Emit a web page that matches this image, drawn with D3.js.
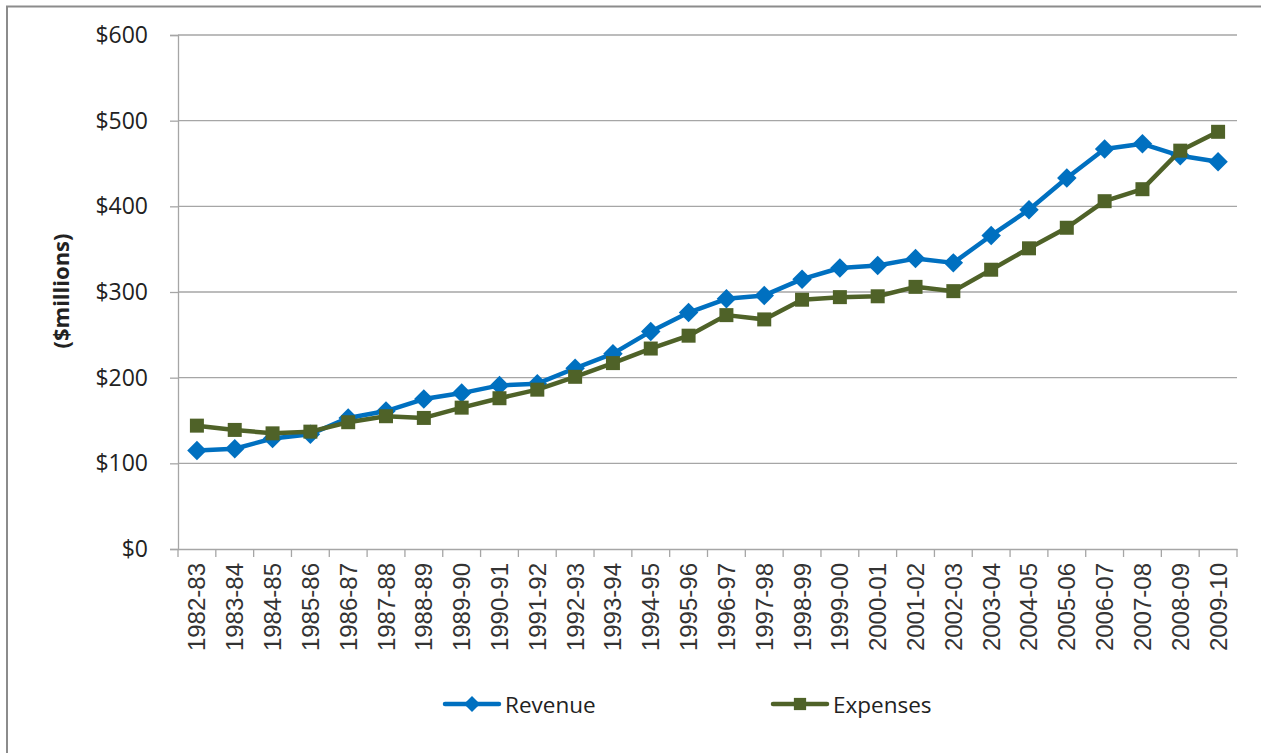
<!DOCTYPE html>
<html>
<head>
<meta charset="utf-8">
<script src="https://cdn.jsdelivr.net/npm/d3@7"></script>
<style>
html,body{margin:0;padding:0;background:#fff;}
svg{display:block;}
</style>
</head>
<body>
<svg id="chart" width="1261" height="753"></svg>
<script>
const categories = ["1982-83","1983-84","1984-85","1985-86","1986-87","1987-88","1988-89","1989-90","1990-91","1991-92","1992-93","1993-94","1994-95","1995-96","1996-97","1997-98","1998-99","1999-00","2000-01","2001-02","2002-03","2003-04","2004-05","2005-06","2006-07","2007-08","2008-09","2009-10"];
const revenue = [115,117,129,134,153,161,175,182,191,193,211,228,254,276,292,296,315,328,331,339,334,366,396,433,467,473,459,452];
const expenses = [144,139,135,137,148,155,153,165,176,186,201,217,234,249,273,268,291,294,295,306,301,326,351,375,406,420,465,487];
const yTicks = [0,100,200,300,400,500,600];
const seriesNames = ["Revenue","Expenses"];
const seriesColors = ["#0070C0","#4F6228"];

const svg = d3.select("#chart");
const W = 1261, H = 753;
const plot = {left:178, right:1237, top:35, bottom:549};

svg.append("rect").attr("width",W).attr("height",H).attr("fill","#fff");
// outer chart border (top & left visible)
svg.append("path").attr("d",`M7,${H} L7,6.5 L${W},6.5`).attr("fill","none").attr("stroke","#8c8c8c").attr("stroke-width",2);

const x = d3.scaleBand().domain(categories).range([plot.left, plot.right]).padding(0);
const y = d3.scaleLinear().domain([0,600]).range([plot.bottom, plot.top]);
const cx = d => x(d) + x.bandwidth()/2;

// gridlines
svg.append("g").selectAll("line").data(yTicks.filter(t=>t>0)).join("line")
  .attr("x1",plot.left).attr("x2",plot.right)
  .attr("y1",d=>y(d)).attr("y2",d=>y(d))
  .attr("stroke","#a6a6a6").attr("stroke-width",1.3);

// y axis
const yAxis = svg.append("g").attr("transform",`translate(${plot.left},0)`)
  .call(d3.axisLeft(y).tickValues(yTicks).tickFormat(d=>"$"+d).tickSize(8).tickPadding(22));
yAxis.select(".domain").attr("stroke","#a6a6a6").attr("stroke-width",1.3);
yAxis.selectAll(".tick line").attr("stroke","#a6a6a6").attr("stroke-width",1.3);
yAxis.selectAll("text").attr("font-family","'Open Sans', sans-serif").attr("font-size",23).attr("fill","#222");

// x axis
const xAxis = svg.append("g").attr("transform",`translate(0,${plot.bottom})`)
  .call(d3.axisBottom(x).tickSize(0).tickPadding(0));
xAxis.select(".domain").attr("stroke","#a6a6a6").attr("stroke-width",1.3);
xAxis.selectAll(".tick text")
  .attr("font-family","'Liberation Sans', Arial, sans-serif").attr("font-size",24).attr("fill","#333")
  .attr("text-anchor","end").attr("dy",null)
  .attr("transform","translate(0,14) rotate(-90)")
  .attr("dominant-baseline","central");
// category boundary ticks
const bounds = categories.map(c=>x(c)).concat([plot.right]);
xAxis.append("g").selectAll("line").data(bounds).join("line")
  .attr("x1",d=>d).attr("x2",d=>d).attr("y1",0).attr("y2",8)
  .attr("stroke","#a6a6a6").attr("stroke-width",1.3);

// y title
svg.append("text").attr("transform",`translate(60,291) rotate(-90)`)
  .attr("text-anchor","middle").attr("dominant-baseline","central")
  .attr("font-family","'Open Sans', sans-serif").attr("font-weight","bold").attr("font-size",22).attr("fill","#222")
  .text("($millions)");

const line = d3.line().x((d,i)=>cx(categories[i])).y(d=>y(d));
const diamond = d3.symbol().type(d3.symbolSquare).size(190);
const square = d3.symbol().type(d3.symbolSquare).size(196);
const legDiamond = d3.symbol().type(d3.symbolSquare).size(130);
const legSquare = d3.symbol().type(d3.symbolSquare).size(150);

function drawSeries(vals, color, kind){
  const g = svg.append("g");
  g.append("path").datum(vals).attr("d",line).attr("fill","none").attr("stroke",color).attr("stroke-width",4.5).attr("stroke-linejoin","round");
  g.selectAll("path.m").data(vals).join("path").attr("class","m")
    .attr("d", kind==="diamond" ? diamond : square)
    .attr("transform",(d,i)=>`translate(${cx(categories[i])},${y(d)})` + (kind==="diamond"?" rotate(45)":""))
    .attr("fill",color);
}
drawSeries(revenue, seriesColors[0], "diamond");
drawSeries(expenses, seriesColors[1], "square");

// legend
const legend = [
  {name:seriesNames[0], color:seriesColors[0], kind:"diamond", x0:445},
  {name:seriesNames[1], color:seriesColors[1], kind:"square", x0:773}
];
const ly = 704;
legend.forEach(l=>{
  const g = svg.append("g");
  g.append("line").attr("x1",l.x0).attr("x2",l.x0+54).attr("y1",ly).attr("y2",ly)
    .attr("stroke",l.color).attr("stroke-width",4.5).attr("stroke-linecap","round");
  g.append("path").attr("d", l.kind==="diamond"?legDiamond:legSquare)
    .attr("transform",`translate(${l.x0+27},${ly})`+(l.kind==="diamond"?" rotate(45)":""))
    .attr("fill",l.color);
  g.append("text").attr("x",l.x0+60).attr("y",ly).attr("dominant-baseline","central")
    .attr("font-family","'Open Sans', sans-serif").attr("font-size",22.5).attr("fill","#222")
    .text(l.name);
});
</script>
</body>
</html>
